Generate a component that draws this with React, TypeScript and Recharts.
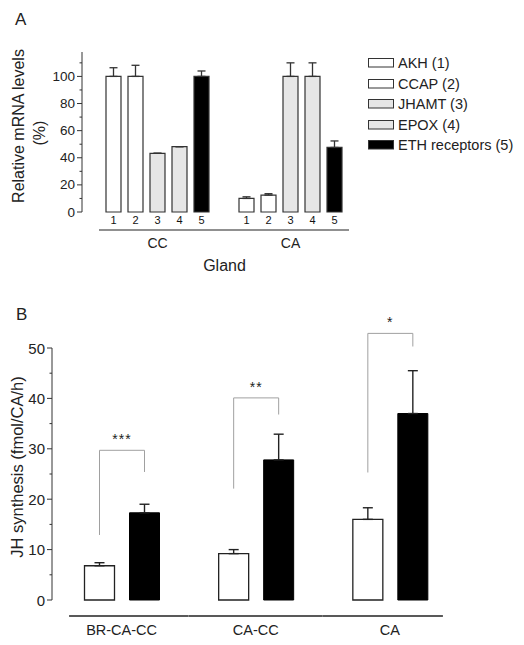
import React from 'react';
import { BarChart, Bar, XAxis, YAxis, ErrorBar, Legend, LabelList } from 'recharts';

// panel A: relative mRNA levels per gland
const glands = ['CC', 'CA'];
const geneNames = ['AKH (1)', 'CCAP (2)', 'JHAMT (3)', 'EPOX (4)', 'ETH receptors (5)'];
const geneNumbers = ['1', '2', '3', '4', '5'];
const akhLevels = [100, 10];
const akhSem = [6.4, 1.2];
const ccapLevels = [100, 12.5];
const ccapSem = [8.2, 1];
const jhamtLevels = [43.3, 100];
const jhamtSem = [0, 10];
const epoxLevels = [48.2, 100];
const epoxSem = [0, 10];
const ethLevels = [100, 47.6];
const ethSem = [4, 4.8];
const mrnaTicks = [0, 10, 20, 30, 40, 50, 60, 70, 80, 90, 100, 110];

// panel B: JH synthesis
const preparations = ['BR-CA-CC', 'CA-CC', 'CA'];
const controlRate = [6.8, 9.2, 16.0];
const controlSem = [0.6, 0.8, 2.3];
const ethRate = [17.3, 27.8, 37.0];
const ethRateSem = [1.7, 5.1, 8.5];
const significance = ['***', '**', '*'];
const bracketTop = [29.7, 40.1, 52.9];
const bracketLeftEnd = [12.9, 22.1, 25.3];
const bracketRightEnd = [25.4, 36.8, 50.3];
const synthesisTicks = [0, 5, 10, 15, 20, 25, 30, 35, 40, 45, 50];

const geneKeys = ['akh', 'ccap', 'jhamt', 'epox', 'eth'];
const geneLevels = [akhLevels, ccapLevels, jhamtLevels, epoxLevels, ethLevels];
const geneSems = [akhSem, ccapSem, jhamtSem, epoxSem, ethSem];
const geneFills = ['#ffffff', '#ffffff', '#e6e6e6', '#e6e6e6', '#000000'];

const mrnaData = glands.map((gland, g) => {
  const row: any = { gland };
  geneKeys.forEach((k, i) => {
    row[k] = geneLevels[i][g];
    row[k + 'Err'] = [0, geneSems[i][g]];
  });
  return row;
});

const synthesisData = preparations.map((prep, i) => ({
  prep,
  control: controlRate[i],
  controlErr: [0, controlSem[i]],
  eth: ethRate[i],
  ethErr: [0, ethRateSem[i]],
}));

const FONT = '"Liberation Sans", Arial, sans-serif';
const INK = '#222';

const makeYTick = (labelEvery: number, fontSize: number) => (props: any) => {
  const { x, y, payload } = props;
  const major = payload.value % labelEvery === 0;
  return (
    <g>
      <line x1={x - (major ? 5 : 2.5)} x2={x} y1={y} y2={y} stroke="#333" />
      {major && (
        <text x={x - 7} y={y} textAnchor="end" dominantBaseline="central" fontSize={fontSize} fill={INK}>
          {payload.value}
        </text>
      )}
    </g>
  );
};

const GlandTick = (props: any) => {
  const { x, y, payload, index } = props;
  const left = index === 0 ? x - 58.5 : x - 66.5;
  const right = index === glands.length - 1 ? x + 58.5 : x + 66.5;
  return (
    <g>
      <line x1={left} x2={right} y1={y + 18} y2={y + 18} stroke={INK} strokeWidth={1.2} />
      <text x={x} y={y + 36} textAnchor="middle" fontSize={14} fill={INK}>{payload.value}</text>
    </g>
  );
};

const PrepTick = (props: any) => {
  const { x, y, payload, index } = props;
  const left = index === 0 ? x - 52.5 : x - 67;
  const right = index === preparations.length - 1 ? x + 53 : x + 67;
  return (
    <g>
      <line x1={left} x2={right} y1={y + 16} y2={y + 16} stroke={INK} strokeWidth={1.3} />
      <text x={x} y={y + 35} textAnchor="middle" fontSize={14.5} fill={INK}>{payload.value}</text>
    </g>
  );
};

const barNumber = (i: number) => (props: any) => {
  const vb = props.viewBox ?? props;
  return (
    <text x={vb.x + vb.width / 2} y={vb.y + vb.height + 11.5} textAnchor="middle" fontSize={11} fill="#111">
      {geneNumbers[i]}
    </text>
  );
};

// bracket between the two bars of a group, built from the ETH bar geometry
const SigBracket = (props: any) => {
  const vb = props.viewBox ?? props;
  const i = props.index;
  const v = props.value;
  const yOf = (d: number) => vb.y + vb.height - (d * vb.height) / v;
  const right = vb.x + vb.width / 2;
  const left = right - (vb.width + 15);
  const top = yOf(bracketTop[i]);
  return (
    <g>
      <polyline
        points={`${left},${yOf(bracketLeftEnd[i])} ${left},${top} ${right},${top} ${right},${yOf(bracketRightEnd[i])}`}
        fill="none"
        stroke="#a0a0a0"
        strokeWidth={1}
      />
      <text x={(left + right) / 2} y={top - 6} textAnchor="middle" fontSize={14} letterSpacing={1} fill={INK}>
        {significance[i]}
      </text>
    </g>
  );
};

const GeneLegend = (props: any) => {
  const payload = [...(props.payload ?? [])].sort(
    (a: any, b: any) => geneNames.indexOf(a.value) - geneNames.indexOf(b.value)
  );
  return (
    <div style={{ fontSize: 14.5, color: INK, fontFamily: FONT }}>
      {payload.map((entry: any) => {
        const i = geneNames.indexOf(entry.value);
        return (
          <div key={entry.value} style={{ display: 'flex', alignItems: 'center', height: 20.5 }}>
            <svg width={27} height={10} style={{ display: 'block' }}>
              <rect x={0.5} y={0.5} width={25} height={8.5} fill={geneFills[i]} stroke="#333" />
            </svg>
            <span style={{ marginLeft: 3, whiteSpace: 'nowrap' }}>{entry.value}</span>
          </div>
        );
      })}
    </div>
  );
};

const MrnaAxisLabel = () => (
  <g fill={INK} fontSize={16}>
    <text x={18} y={126} textAnchor="middle" dominantBaseline="central" transform="rotate(-90 18 126)">
      Relative mRNA levels
    </text>
    <text x={39} y={133} textAnchor="middle" dominantBaseline="central" transform="rotate(-90 39 133)">
      (%)
    </text>
  </g>
);

const SynthesisAxisLabel = () => (
  <text x={17} y={177} textAnchor="middle" dominantBaseline="central" fontSize={16.5} fill={INK}
    transform="rotate(-90 17 177)">
    JH synthesis (fmol/CA/h)
  </text>
);

const GlandLabel = (props: any) => {
  const vb = props.viewBox;
  return (
    <text x={vb.x + vb.width / 2 + 5} y={vb.y + 59} textAnchor="middle" fontSize={16} fill={INK}>
      Gland
    </text>
  );
};

export default function App() {
  return (
    <div style={{ position: 'absolute', left: 0, top: 0, width: 524, height: 645, background: '#fff', fontFamily: FONT }}>
      <div style={{ position: 'absolute', left: 15, top: 10.6, fontSize: 17, lineHeight: '17px', color: INK }}>A</div>
      <div style={{ position: 'absolute', left: 16, top: 305.6, fontSize: 17, lineHeight: '17px', color: INK }}>B</div>

      <div style={{ position: 'absolute', left: 0, top: 0 }}>
        <BarChart width={524} height={285} data={mrnaData} barSize={15} barGap={7}
          margin={{ top: 52, right: 167, bottom: 13, left: 0 }}>
          <XAxis dataKey="gland" axisLine={false} tickLine={false} tickSize={0} tickMargin={0} height={60}
            interval={0} padding={{ left: 9, right: 0 }} tick={<GlandTick />} label={<GlandLabel />} />
          <YAxis type="number" domain={[0, 118]} ticks={mrnaTicks} interval={0} width={82} tickLine={false}
            tickSize={0} tickMargin={0} axisLine={{ stroke: '#333' }} tick={makeYTick(20, 13.5)}
            label={<MrnaAxisLabel />} />
          <Legend layout="vertical" align="center" verticalAlign="middle" content={<GeneLegend />}
            wrapperStyle={{ position: 'absolute', left: 368, top: 53, width: 156 }} />
          {geneKeys.map((k, i) => (
            <Bar key={k} dataKey={k} name={geneNames[i]} fill={geneFills[i]} stroke="#333" strokeWidth={1.2}
              isAnimationActive={false}>
              <ErrorBar dataKey={k + 'Err'} width={4} stroke="#333" strokeWidth={1.3} direction="y"
                isAnimationActive={false} />
              <LabelList dataKey={k} content={barNumber(i)} />
            </Bar>
          ))}
        </BarChart>
      </div>

      <div style={{ position: 'absolute', left: 0, top: 290 }}>
        <BarChart width={524} height={355} data={synthesisData} barSize={30} barGap={15}
          margin={{ top: 58, right: 67, bottom: 0, left: 0 }}>
          <XAxis dataKey="prep" axisLine={false} tickLine={false} tickSize={0} tickMargin={0} height={45}
            interval={0} padding={{ left: 2.5, right: 0 }} tick={<PrepTick />} />
          <YAxis type="number" domain={[0, 50]} ticks={synthesisTicks} interval={0} width={52} tickLine={false}
            tickSize={0} tickMargin={0} axisLine={{ stroke: '#333' }} tick={makeYTick(10, 15)}
            label={<SynthesisAxisLabel />} />
          <Bar dataKey="control" fill="#ffffff" stroke="#222" strokeWidth={1.3} isAnimationActive={false}>
            <ErrorBar dataKey="controlErr" width={5} stroke="#222" strokeWidth={1.4} direction="y"
              isAnimationActive={false} />
          </Bar>
          <Bar dataKey="eth" fill="#000000" stroke="#000" isAnimationActive={false}>
            <ErrorBar dataKey="ethErr" width={5} stroke="#222" strokeWidth={1.4} direction="y"
              isAnimationActive={false} />
            <LabelList dataKey="eth" content={<SigBracket />} />
          </Bar>
        </BarChart>
      </div>
    </div>
  );
}
